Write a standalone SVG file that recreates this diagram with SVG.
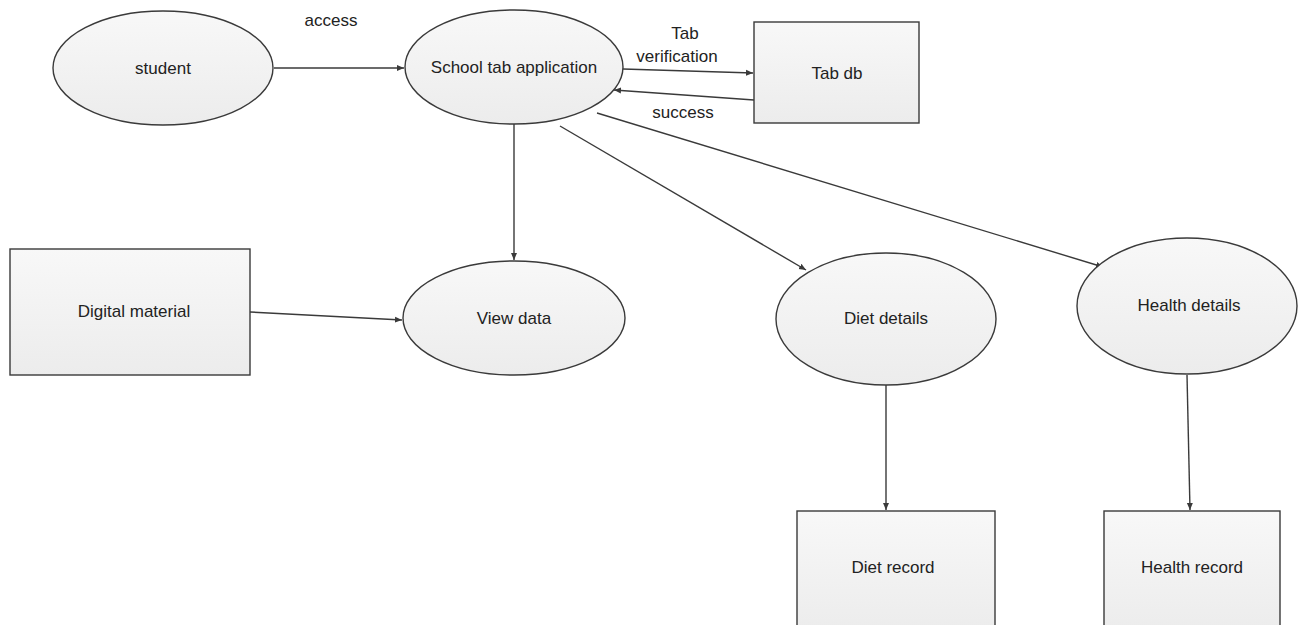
<svg xmlns="http://www.w3.org/2000/svg" width="1299" height="625" viewBox="0 0 1299 625">
<style>
.shape{fill:url(#g);stroke:#3a3a3a;stroke-width:1.4}
.lbl{font-family:"Liberation Sans",Arial,sans-serif;font-size:17px;fill:#222;text-anchor:middle}
.conn{stroke:#3a3a3a;stroke-width:1.4;fill:none;marker-end:url(#ah)}
</style>
<defs>
<linearGradient id="g" x1="0" y1="0" x2="0" y2="1"><stop offset="0" stop-color="#f8f8f8"/><stop offset="1" stop-color="#ececec"/></linearGradient>
<marker id="ah" markerWidth="8" markerHeight="8" refX="7" refY="4" orient="auto" markerUnits="userSpaceOnUse"><path d="M0,1 L7,4 L0,7 z" fill="#3a3a3a"/></marker>
</defs>
<rect width="1299" height="625" fill="#fff"/>
<g id="connectors">
<line class="conn" x1="274" y1="68" x2="404" y2="68"/>
<line class="conn" x1="623" y1="69" x2="753" y2="73"/>
<line class="conn" x1="754" y1="100" x2="614" y2="90"/>
<line class="conn" x1="514" y1="124" x2="514" y2="260"/>
<line class="conn" x1="250" y1="312" x2="402" y2="320"/>
<line class="conn" x1="560" y1="126" x2="806" y2="270"/>
<line class="conn" x1="597" y1="113" x2="1103" y2="267"/>
<line class="conn" x1="886" y1="385" x2="886" y2="510"/>
<line class="conn" x1="1187" y1="375" x2="1190" y2="510"/>
<text class="lbl" x="331" y="26">access</text>
<text class="lbl" x="685" y="39">Tab</text>
<text class="lbl" x="677" y="62">verification</text>
<text class="lbl" x="683" y="118">success</text>
</g>
<g id="student"><ellipse class="shape" cx="163" cy="68" rx="110" ry="57"/><text class="lbl" x="163" y="74">student</text></g>
<g id="school-tab-app"><ellipse class="shape" cx="514" cy="67" rx="109" ry="57"/><text class="lbl" x="514" y="73">School tab application</text></g>
<g id="tab-db"><rect class="shape" x="754" y="22" width="165" height="101"/><text class="lbl" x="837" y="79">Tab db</text></g>
<g id="digital-material"><rect class="shape" x="10" y="249" width="240" height="126"/><text class="lbl" x="134" y="317">Digital material</text></g>
<g id="view-data"><ellipse class="shape" cx="514" cy="318" rx="111" ry="57"/><text class="lbl" x="514" y="324">View data</text></g>
<g id="diet-details"><ellipse class="shape" cx="886" cy="319" rx="110" ry="66"/><text class="lbl" x="886" y="324">Diet details</text></g>
<g id="health-details"><ellipse class="shape" cx="1187" cy="306" rx="110" ry="68"/><text class="lbl" x="1189" y="311">Health details</text></g>
<g id="diet-record"><rect class="shape" x="797" y="511" width="198" height="120"/><text class="lbl" x="893" y="573">Diet record</text></g>
<g id="health-record"><rect class="shape" x="1104" y="511" width="176" height="120"/><text class="lbl" x="1192" y="573">Health record</text></g>
</svg>
